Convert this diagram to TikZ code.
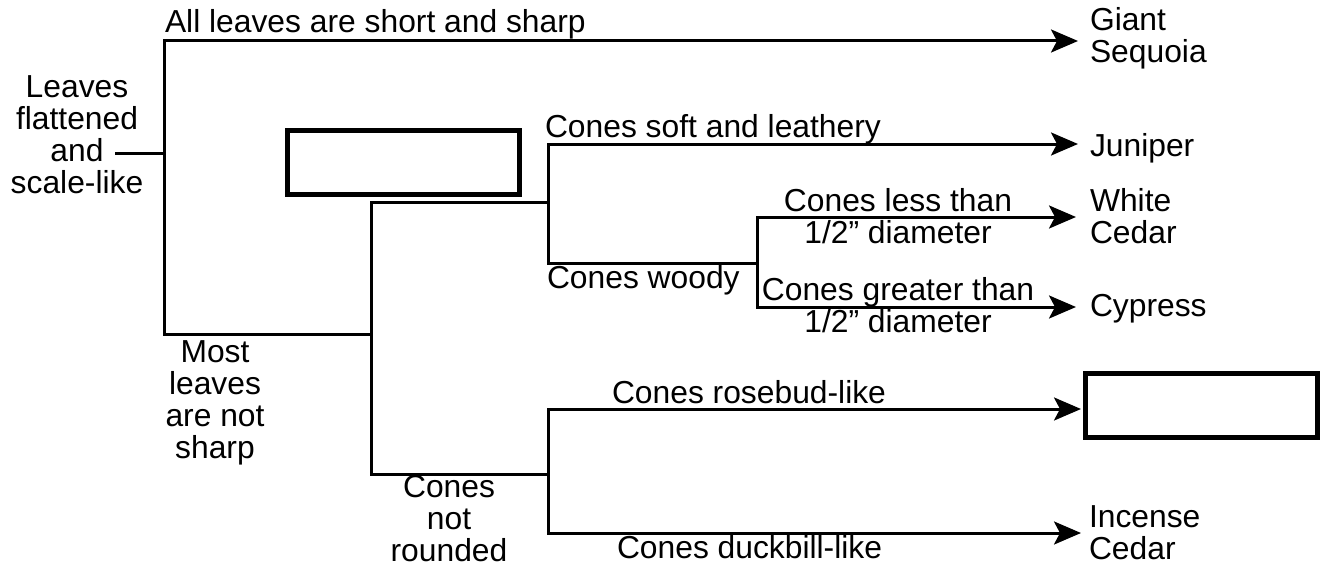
\documentclass[tikz,border=0pt]{standalone}
\usepackage{fontspec}
\setmainfont{Liberation Sans}
\usetikzlibrary{arrows.meta}
\begin{document}
\begin{tikzpicture}[x=1pt,y=-1pt,
  every node/.style={inner sep=0pt,outer sep=0pt,font=\fontsize{31.8}{32}\selectfont},
  conn/.style={line width=3pt,line join=miter,line cap=rect},
  arr/.style={conn,-{Stealth[length=27pt,width=23pt,inset=6pt]}},
  blankbox/.style={draw,line width=5pt,minimum width=232pt,minimum height=64pt},
  lbl/.style={anchor=base west,align=left},
  clbl/.style={anchor=base,align=center}]
\useasboundingbox (0,0) rectangle (1324,567);
% junction coordinates
\coordinate (A) at (164,41);
\coordinate (B) at (164,334);
\coordinate (J0) at (164,153);
\coordinate (stub) at (116,153);
\coordinate (C) at (371,334);
\coordinate (D) at (371,202);
\coordinate (E) at (371,474);
\coordinate (F) at (548,202);
\coordinate (G) at (548,144);
\coordinate (H) at (548,263);
\coordinate (I) at (757,263);
\coordinate (K) at (757,217);
\coordinate (L) at (757,307);
\coordinate (M) at (548,474);
\coordinate (N) at (548,409);
\coordinate (O) at (548,533);
% arrow tips
\coordinate (tGS) at (1078,41);
\coordinate (tJ) at (1078,144);
\coordinate (tWC) at (1076,217);
\coordinate (tCy) at (1076,307);
\coordinate (tBox) at (1081,409);
\coordinate (tIC) at (1081,533);
% texts (base anchor = baseline of the last line)
\node[clbl] (root) at (77,193) {Leaves\\flattened\\and\\scale-like};
\node[anchor=base west] (lsharp) at (165,33) {All leaves are short and sharp};
\node[clbl] (lnot) at (215,458) {Most\\leaves\\are not\\sharp};
\node[anchor=base west] (lsoft) at (545,137) {Cones soft and leathery};
\node[anchor=base west] (lwoody) at (547,288) {Cones woody};
\node[clbl] (lless) at (898,243) {Cones less than\\1/2” diameter};
\node[clbl] (lgreat) at (898,332) {Cones greater than\\1/2” diameter};
\node[clbl] (lround) at (449,561) {Cones\\not\\rounded};
\node[anchor=base west] (lrose) at (612,403) {Cones rosebud-like};
\node[anchor=base west] (lduck) at (617,558) {Cones duckbill-like};
\node[lbl] (gs) at (1090,63) {Giant\\Sequoia};
\node[lbl] (jun) at (1090,156) {Juniper};
\node[lbl] (wc) at (1090,243) {White\\Cedar};
\node[lbl] (cyp) at (1090,316) {Cypress};
\node[lbl] (ic) at (1089,559) {Incense\\Cedar};
\node[blankbox] (box1) at (403.5,162.5) {};
\node[blankbox] (box2) at (1201.5,405.5) {};
% connectors
\draw[conn] (stub) -- (J0);
\draw[arr] (C) -- (B) -- (A) -- (tGS);
\draw[conn] (D) -- (E);
\draw[conn] (D) -- (F);
\draw[conn] (E) -- (M);
\draw[arr] (H) -- (G) -- (tJ);
\draw[conn] (H) -- (I);
\draw[arr] (L) -- (K) -- (tWC);
\draw[arr] (K) -- (L) -- (tCy);
\draw[arr] (O) -- (N) -- (tBox);
\draw[arr] (N) -- (O) -- (tIC);
\end{tikzpicture}
\end{document}
